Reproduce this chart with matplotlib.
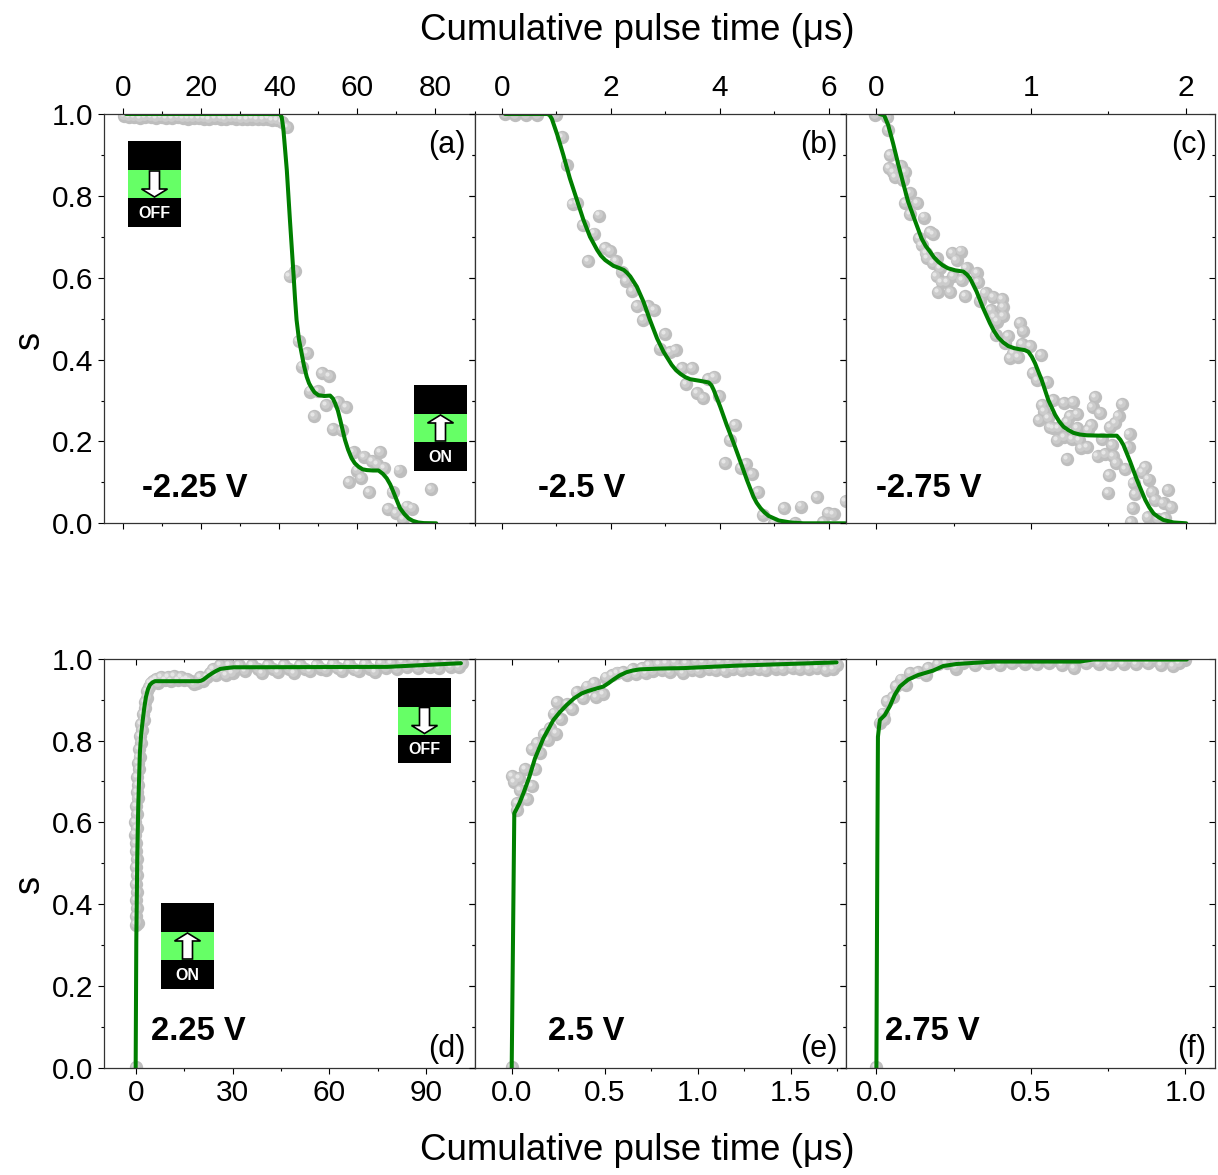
#Curvas de conmutacion S vs tiempo de pulso, seis paneles
import matplotlib
matplotlib.use("Agg")
import matplotlib.pyplot as plt
from matplotlib.patches import Rectangle, Polygon
from matplotlib.ticker import MultipleLocator, FormatStrFormatter
from matplotlib.transforms import ScaledTranslation

plt.rcParams['font.family'] = ['Liberation Sans', 'DejaVu Sans']

# panel a
a_pts_x = [0.3, 1.5, 2.8, 4.2, 5.5, 7, 8.4, 9.8, 11, 12.5, 14, 15.3, 16.6, 18, 19.4, 20.7, 22, 23.5, 25, 26.2, 27.6,
           29, 30.3, 31.7, 33, 34.4, 35.8, 37, 38.2, 39.3, 40.6, 41.9,
           42.6, 43.9, 44.9, 47.0, 45.7, 50.9, 52.8, 47.9, 50, 51.9, 48.9, 55.1, 57.0, 53.8, 56, 59, 61.8, 63.7,
           65.8, 65, 66.9, 70.8, 59.8, 60.9, 57.9, 62.9, 69, 78.9, 67.8, 69.8, 72.8, 73.9, 71.8]
a_pts_y = [0.995, 0.992, 0.993, 0.991, 0.992, 0.993, 0.99, 0.992, 0.991, 0.99, 0.992, 0.991, 0.989, 0.99, 0.991, 0.989,
           0.988, 0.99, 0.989, 0.988, 0.99, 0.989, 0.988, 0.987, 0.989, 0.988, 0.987, 0.989, 0.986, 0.985, 0.981, 0.969,
           0.603, 0.616, 0.445, 0.417, 0.383, 0.366, 0.36, 0.322, 0.324, 0.289, 0.262, 0.296, 0.283, 0.231, 0.228,
           0.175, 0.163, 0.151, 0.173, 0.144, 0.134, 0.129, 0.129, 0.11, 0.1, 0.077, 0.077, 0.083, 0.034, 0.024,
           0.041, 0.036, 0.01]
a_line_x = [0.7, 40.2, 40.6, 41, 41.4, 41.9, 42.7, 43.6, 44.0, 44.4, 45, 45.7, 46.3, 47, 47.6, 48.3, 49, 50, 51.5, 53,
            53.7, 54.3, 55, 55.6, 56.8, 57.6, 58.5, 59.3, 60.3, 61.3, 62.4, 64, 65.4, 66.5, 67.5, 68.4, 69.2, 70, 70.9,
            72, 73.1, 74.2, 75.6, 77, 80.2]
a_line_y = [1, 1, 0.992, 0.965, 0.92, 0.863, 0.741, 0.611, 0.55, 0.497, 0.45, 0.415, 0.385, 0.358, 0.342, 0.33, 0.32,
            0.313, 0.311, 0.312, 0.305, 0.293, 0.275, 0.252, 0.204, 0.18, 0.159, 0.147, 0.138, 0.132, 0.13, 0.129,
            0.129, 0.121, 0.11, 0.095, 0.077, 0.058, 0.037, 0.023, 0.012, 0.006, 0.002, 0.0005, 0]

# panel b
b_pts_x = [0.06, 0.25, 0.45, 0.65, 1.0, 1.1, 1.19, 1.3, 1.39, 1.79, 1.49, 1.7, 1.59, 1.9, 1.99, 2.09, 2.2, 2.28, 2.39,
           2.49, 2.69, 2.79, 2.59, 2.99, 3.19, 3.09, 2.9, 3.31, 3.49, 3.39, 3.78, 3.89, 3.59, 3.69, 3.99, 4.29, 4.19,
           4.1, 4.49, 4.39, 4.59, 4.7, 4.79, 5.0, 5.19, 5.5, 5.79, 6.31, 5.99, 6.09, 5.89, 5.39]
b_pts_y = [0.999, 0.998, 0.998, 0.998, 0.997, 0.943, 0.875, 0.78, 0.782, 0.752, 0.729, 0.708, 0.641, 0.672, 0.665,
           0.641, 0.615, 0.593, 0.568, 0.531, 0.531, 0.521, 0.497, 0.463, 0.423, 0.419, 0.427, 0.379, 0.379, 0.34,
           0.352, 0.358, 0.318, 0.305, 0.311, 0.241, 0.204, 0.147, 0.145, 0.134, 0.12, 0.077, 0.02, 0.0, 0.037,
           0.041, 0.064, 0.055, 0.024, 0.023, 0.004, 0.0]
b_line_x = [0.06, 0.84, 0.88, 0.92, 1.02, 1.13, 1.25, 1.38, 1.5, 1.62, 1.75, 1.82, 1.9, 2.05, 2.15, 2.24, 2.3, 2.36,
            2.48, 2.6, 2.72, 2.85, 2.97, 3.12, 3.2, 3.28, 3.37, 3.46, 3.64, 3.8, 3.85, 3.89, 4.01, 4.13, 4.26, 4.38,
            4.5, 4.62, 4.68, 4.75, 4.82, 4.9, 5.08, 5.3, 5.54, 6.31]
b_line_y = [1, 1, 0.997, 0.988, 0.949, 0.9, 0.843, 0.79, 0.741, 0.7, 0.668, 0.654, 0.643, 0.629, 0.624, 0.619, 0.612,
            0.603, 0.578, 0.542, 0.497, 0.452, 0.419, 0.387, 0.374, 0.365, 0.357, 0.352, 0.348, 0.344, 0.337, 0.326,
            0.285, 0.24, 0.195, 0.151, 0.106, 0.065, 0.05, 0.037, 0.027, 0.018, 0.007, 0.002, 0, 0]

# panel c
c_pts_x = [-0.006, 0.069, 0.078, 0.091, 0.08, 0.108, 0.119, 0.162, 0.184, 0.173, 0.216, 0.188, 0.26, 0.216, 0.307,
           0.276, 0.346, 0.367, 0.292, 0.389, 0.318, 0.328, 0.367, 0.41, 0.492, 0.546, 0.518, 0.583, 0.648, 0.659,
           0.551, 0.497, 0.454, 0.389, 0.421, 0.4, 0.475, 0.575, 0.67, 0.706, 0.756, 0.81, 0.821, 0.739, 0.76, 0.821,
           0.778, 0.929, 0.946, 0.853, 0.773, 0.832, 0.94, 0.994, 0.886, 0.864, 0.918, 1.065, 1.015, 1.037, 1.106,
           1.145, 1.214, 1.274, 1.073, 1.084, 1.054, 1.112, 1.123, 1.177, 1.253, 1.3, 1.235, 1.3, 1.415, 1.398, 1.447,
           1.587, 1.566, 1.544, 1.512, 1.387, 1.371, 1.145, 1.166, 1.214, 1.263, 1.313, 1.322, 1.365, 1.458, 1.637,
           1.523, 1.631, 1.235, 1.43, 1.479, 1.533, 1.551, 1.609, 1.739, 1.717, 1.503, 1.76, 1.663, 1.497, 1.674,
           1.782, 1.885, 1.803, 1.857, 1.905, 1.657, 1.754, 1.646, 1.868, 1.819]
c_pts_y = [0.998, 0.993, 0.961, 0.9, 0.869, 0.859, 0.847, 0.873, 0.859, 0.839, 0.806, 0.782, 0.783, 0.756, 0.747,
           0.696, 0.712, 0.707, 0.68, 0.648, 0.66, 0.647, 0.635, 0.623, 0.66, 0.664, 0.643, 0.623, 0.611, 0.59, 0.594,
           0.603, 0.59, 0.603, 0.59, 0.564, 0.564, 0.556, 0.542, 0.562, 0.552, 0.547, 0.529, 0.521, 0.505, 0.506,
           0.493, 0.489, 0.47, 0.458, 0.459, 0.44, 0.438, 0.432, 0.415, 0.403, 0.407, 0.411, 0.366, 0.35, 0.346,
           0.301, 0.293, 0.296, 0.289, 0.273, 0.252, 0.257, 0.236, 0.232, 0.261, 0.266, 0.248, 0.232, 0.308, 0.285,
           0.269, 0.292, 0.262, 0.244, 0.235, 0.24, 0.228, 0.232, 0.204, 0.21, 0.205, 0.204, 0.183, 0.187, 0.205,
           0.217, 0.191, 0.187, 0.157, 0.164, 0.169, 0.165, 0.147, 0.132, 0.137, 0.126, 0.118, 0.107, 0.098, 0.075,
           0.071, 0.077, 0.081, 0.057, 0.049, 0.039, 0.037, 0.015, 0.004, 0.012, 0.01]
c_line_x = [0.02, 0.05, 0.076, 0.108, 0.14, 0.173, 0.205, 0.248, 0.292, 0.318, 0.346, 0.372, 0.4, 0.43, 0.464, 0.51,
            0.562, 0.585, 0.605, 0.648, 0.691, 0.734, 0.76, 0.788, 0.82, 0.853, 0.89, 0.929, 0.96, 0.983, 1.005, 1.026,
            1.069, 1.112, 1.156, 1.182, 1.21, 1.24, 1.274, 1.315, 1.361, 1.46, 1.555, 1.578, 1.598, 1.641, 1.685,
            1.739, 1.765, 1.793, 1.825, 1.857, 1.922, 2.004]
c_line_y = [1, 0.997, 0.973, 0.928, 0.879, 0.831, 0.786, 0.741, 0.696, 0.678, 0.664, 0.65, 0.639, 0.63, 0.623, 0.618,
            0.615, 0.608, 0.599, 0.566, 0.525, 0.489, 0.47, 0.454, 0.442, 0.433, 0.428, 0.425, 0.423, 0.419, 0.407,
            0.391, 0.35, 0.301, 0.265, 0.249, 0.236, 0.228, 0.221, 0.217, 0.215, 0.214, 0.214, 0.204, 0.191, 0.151,
            0.106, 0.057, 0.039, 0.024, 0.015, 0.008, 0.002, 0]

# panel d
d_pts_x = [0, 0.1, 0.6, 0.1, 0.5, 0.0, 0.4, 0.1, 0.3, 0.0, 0.3, 0.0, 0.2, -0.2, 0.3, -0.1, 0.4, 0.2, 0.6, 0.3, 0.8,
           0.5, 1.0, 0.7, 1.2, 1.0, 1.6, 1.4, 2.0, 1.8, 2.6, 2.2, 3.0, 2.8, 3.6, 3.4, 4.2, 4.6, 5.4,
           6.2, 7, 8, 9, 10, 11, 12, 13, 14, 15, 16, 17, 18, 19, 20, 21, 22, 23, 24, 25, 26, 27, 28, 29, 30, 31, 32,
           34, 36, 38, 39, 41, 42.5, 44, 46, 47.5, 49, 51, 52.5, 54, 56, 57.5, 59, 61, 62.5, 64, 66, 67.5, 69, 71,
           72.5, 74, 76, 77.5, 79, 81, 82.5, 84, 86, 87.5, 89, 91, 92.5, 94, 96, 97.5, 99, 100, 101]
d_pts_y = [0.002, 0.35, 0.355, 0.37, 0.39, 0.41, 0.43, 0.45, 0.47, 0.49, 0.51, 0.53, 0.55, 0.57, 0.585, 0.6, 0.62, 0.64,
           0.66, 0.675, 0.69, 0.71, 0.73, 0.745, 0.76, 0.78, 0.795, 0.81, 0.825, 0.84, 0.85, 0.865, 0.88, 0.895, 0.905,
           0.92, 0.93, 0.94, 0.945,
           0.95, 0.94, 0.955, 0.948, 0.955, 0.945, 0.957, 0.947, 0.955, 0.948, 0.95, 0.945, 0.937, 0.94, 0.955, 0.945,
           0.955, 0.965, 0.975, 0.96, 0.985, 0.97, 0.96, 0.985, 0.965, 0.975, 0.985, 0.97, 0.985, 0.975, 0.965, 0.985,
           0.975, 0.968, 0.985, 0.975, 0.965, 0.985, 0.975, 0.97, 0.985, 0.976, 0.972, 0.988, 0.977, 0.97, 0.986,
           0.975, 0.97, 0.987, 0.976, 0.968, 0.99, 0.978, 0.99, 0.975, 0.992, 0.98, 0.993, 0.978, 0.99, 0.98, 0.995,
           0.978, 0.993, 0.98, 0.995, 0.98, 0.99]
d_line_x = [0, 0.2, 0.5, 0.8, 1.3, 1.7, 2.2, 2.7, 3.2, 3.8, 4.4, 5.2, 6, 19.4, 20.2, 21, 22.3, 23.6, 24.9, 26.2, 28,
            30.3, 77.9, 100.7]
d_line_y = [0, 0.312, 0.516, 0.638, 0.769, 0.815, 0.85, 0.882, 0.907, 0.925, 0.936, 0.942, 0.945, 0.945, 0.946, 0.949,
            0.957, 0.964, 0.97, 0.975, 0.977, 0.979, 0.98, 0.989]

# panel e
e_pts_x = [0.0, 0.004, 0.013, 0.039, 0.072, 0.125, 0.108, 0.045, 0.081, 0.03, 0.027, 0.111, 0.152, 0.134, 0.174, 0.197,
           0.206, 0.238, 0.228, 0.263, 0.246, 0.323, 0.296, 0.349, 0.385, 0.403, 0.444, 0.453, 0.493, 0.507, 0.538,
           0.565, 0.6, 0.62, 0.65, 0.67, 0.7, 0.72, 0.74, 0.76, 0.79, 0.81, 0.83, 0.85, 0.88, 0.9, 0.92, 0.94, 0.97,
           0.99, 1.01, 1.03, 1.06, 1.08, 1.1, 1.12, 1.15, 1.17, 1.19, 1.21, 1.24, 1.26, 1.28, 1.3, 1.33, 1.35, 1.37,
           1.39, 1.42, 1.44, 1.46, 1.48, 1.51, 1.53, 1.55, 1.57, 1.6, 1.62, 1.64, 1.66, 1.69, 1.71, 1.73, 1.75]
e_pts_y = [0.002, 0.714, 0.699, 0.709, 0.73, 0.73, 0.689, 0.679, 0.656, 0.646, 0.63, 0.778, 0.769, 0.793, 0.816, 0.801,
           0.83, 0.817, 0.866, 0.852, 0.895, 0.876, 0.89, 0.919, 0.903, 0.932, 0.94, 0.907, 0.913, 0.954, 0.96, 0.966,
           0.968, 0.96, 0.975, 0.962, 0.978, 0.965, 0.985, 0.97, 0.988, 0.972, 0.99, 0.968, 0.992, 0.975, 0.965, 0.99,
           0.972, 0.995, 0.97, 0.992, 0.974, 0.995, 0.972, 0.992, 0.97, 0.995, 0.975, 0.998, 0.972, 0.995, 0.976,
           0.997, 0.975, 0.993, 0.972, 0.998, 0.976, 0.995, 0.974, 0.997, 0.978, 0.995, 0.975, 0.998, 0.974, 0.995,
           0.978, 0.998, 0.972, 0.995, 0.975, 0.985]
e_line_x = [0, 0.014, 0.041, 0.063, 0.095, 0.125, 0.17, 0.224, 0.26, 0.296, 0.335, 0.376, 0.41, 0.448, 0.493, 0.52,
            0.547, 0.58, 0.618, 0.65, 0.69, 0.8, 0.923, 1.21, 1.747]
e_line_y = [0, 0.622, 0.646, 0.671, 0.711, 0.756, 0.805, 0.85, 0.87, 0.887, 0.903, 0.915, 0.921, 0.926, 0.932, 0.94,
            0.949, 0.959, 0.967, 0.971, 0.974, 0.976, 0.977, 0.983, 0.991]

# panel f
f_pts_x = [0.0, 0.011, 0.024, 0.022, 0.035, 0.054, 0.065, 0.081, 0.097, 0.11, 0.135, 0.16, 0.167, 0.2, 0.227, 0.259,
           0.254, 0.28, 0.3, 0.32, 0.34, 0.36, 0.38, 0.4, 0.42, 0.44, 0.46, 0.48, 0.5, 0.52, 0.54, 0.56, 0.58, 0.6,
           0.62, 0.64, 0.66, 0.68, 0.7, 0.72, 0.74, 0.76, 0.78, 0.8, 0.82, 0.84, 0.86, 0.88, 0.9, 0.92, 0.94, 0.96,
           0.98, 1.0]
f_pts_y = [0.002, 0.844, 0.852, 0.866, 0.896, 0.907, 0.934, 0.949, 0.936, 0.965, 0.968, 0.96, 0.978, 0.987, 0.99, 0.976,
           0.997, 0.99, 0.998, 0.985, 0.998, 0.99, 0.998, 0.985, 0.998, 0.99, 0.998, 0.988, 0.998, 0.986, 0.998, 0.99,
           0.998, 0.985, 0.998, 0.978, 0.998, 0.99, 0.998, 0.988, 0.998, 0.986, 0.998, 0.988, 0.998, 0.986, 0.998,
           0.99, 0.998, 0.984, 0.998, 0.982, 0.99, 0.998]
f_line_x = [0, 0.003, 0.005, 0.011, 0.027, 0.043, 0.059, 0.076, 0.103, 0.135, 0.184, 0.216, 0.259, 0.378, 0.659, 0.702,
            1.005]
f_line_y = [0, 0.516, 0.809, 0.85, 0.862, 0.883, 0.911, 0.932, 0.949, 0.96, 0.971, 0.982, 0.987, 0.993, 0.993, 0.998,
            0.998]

panel_labels = ['(a)', '(b)', '(c)', '(d)', '(e)', '(f)']
voltajes = ['-2.25 V', '-2.5 V', '-2.75 V', '2.25 V', '2.5 V', '2.75 V']
x_titulo = 'Cumulative pulse time (\u03bcs)'

W, H = 1218, 1175
fig = plt.figure(figsize=(W / 100, H / 100), dpi=100)

def caja(x0, x1, y_top, y_bot):
    return [x0 / W, 1 - y_bot / H, (x1 - x0) / W, (y_bot - y_top) / H]

bordes = [104, 474.5, 845.5, 1215]
filas = [(114, 523.3), (658.7, 1067.7)]
lims = [(-4.95, 90), (-0.5, 6.31), (-0.2, 2.19), (-9.8, 104.9), (-0.2, 1.795), (-0.1, 1.096)]
mayor = [20, 2, 1, 30, 0.5, 0.5]
formatos = ['%d', '%d', '%d', '%d', '%.1f', '%.1f']
datos = [(a_pts_x, a_pts_y, a_line_x, a_line_y), (b_pts_x, b_pts_y, b_line_x, b_line_y),
         (c_pts_x, c_pts_y, c_line_x, c_line_y), (d_pts_x, d_pts_y, d_line_x, d_line_y),
         (e_pts_x, e_pts_y, e_line_x, e_line_y), (f_pts_x, f_pts_y, f_line_x, f_line_y)]
volt_x = [142, 538, 876, 151, 548, 885]

fs_tick = 21.5
for i in range(6):
    fila = i // 3
    col = i % 3
    ax = fig.add_axes(caja(bordes[col], bordes[col + 1], filas[fila][0], filas[fila][1]))
    ax.set_xlim(lims[i])
    ax.set_ylim(0, 1)
    px, py, lx, ly = datos[i]

    # esferas grises: base y dos brillos corridos arriba a la izquierda
    ax.scatter(px, py, s=92, color='#bebebe', linewidths=0, zorder=3)
    t1 = ax.transData + ScaledTranslation(-0.8 / 72, 0.8 / 72, fig.dpi_scale_trans)
    ax.scatter(px, py, s=40, color='#cccccc', linewidths=0, zorder=3.1, transform=t1)
    t2 = ax.transData + ScaledTranslation(-1.5 / 72, 1.5 / 72, fig.dpi_scale_trans)
    ax.scatter(px, py, s=9, color='#e6e6e6', linewidths=0, zorder=3.2, transform=t2)

    ax.plot(lx, ly, color='#007f00', lw=2.9, zorder=4, solid_joinstyle='round', solid_capstyle='round')

    ax.xaxis.set_major_locator(MultipleLocator(mayor[i]))
    ax.xaxis.set_minor_locator(MultipleLocator(mayor[i] / 2))
    ax.xaxis.set_major_formatter(FormatStrFormatter(formatos[i]))
    ax.yaxis.set_major_locator(MultipleLocator(0.2))
    ax.yaxis.set_minor_locator(MultipleLocator(0.1))
    ax.yaxis.set_major_formatter(FormatStrFormatter('%.1f'))

    for s in ax.spines.values():
        s.set_linewidth(0.9)
        s.set_color('#333333')
        s.set_zorder(5)

    ax.tick_params(axis='y', which='major', direction='out', left=True, right=False, length=4.3, width=0.8,
                   labelsize=fs_tick, pad=3.5, labelleft=(col == 0))
    ax.tick_params(axis='y', which='minor', direction='out', left=True, right=False, length=2.4, width=0.8)
    ax.tick_params(axis='x', which='major', length=4.3, width=0.8, labelsize=fs_tick)
    ax.tick_params(axis='x', which='minor', length=2.4, width=0.8)

    if fila == 0:
        ax.tick_params(axis='x', which='both', direction='out', top=True, bottom=True, labeltop=True,
                       labelbottom=False)
        ax.tick_params(axis='x', which='major', pad=4)
    else:
        ax.tick_params(axis='x', which='both', direction='out', bottom=True, top=False, labelbottom=True)
        ax.tick_params(axis='x', which='major', pad=4)

    # ticks hacia adentro: lado derecho y arriba en la fila de abajo
    ax2 = ax.secondary_yaxis('right')
    ax2.yaxis.set_major_locator(MultipleLocator(0.2))
    ax2.yaxis.set_minor_locator(MultipleLocator(0.1))
    ax2.tick_params(axis='y', which='major', direction='in', length=4, width=0.8, labelright=False)
    ax2.tick_params(axis='y', which='minor', direction='in', length=2.4, width=0.8)
    ax2.spines['right'].set_visible(False)
    if fila == 1:
        ax3 = ax.secondary_xaxis('top')
        ax3.xaxis.set_major_locator(MultipleLocator(mayor[i]))
        ax3.xaxis.set_minor_locator(MultipleLocator(mayor[i] / 2))
        ax3.tick_params(axis='x', which='major', direction='in', length=4, width=0.8, labeltop=False)
        ax3.tick_params(axis='x', which='minor', direction='in', length=2.4, width=0.8)
        ax3.spines['top'].set_visible(False)

    y_txt = 488 if fila == 0 else 1032
    y_let = 145 if fila == 0 else 1049
    fig.text(volt_x[i] / W, 1 - y_txt / H, voltajes[i], fontsize=23.6, fontweight='bold', va='center', ha='left',
             zorder=10)
    fig.text((bordes[col + 1] - 8.5) / W, 1 - y_let / H, panel_labels[i], fontsize=22, va='center', ha='right',
             zorder=10)

    if col == 0:
        y_s = 340 if fila == 0 else 884
        fig.text(30 / W, 1 - y_s / H, 's', fontsize=26, rotation=90, va='center', ha='center')

fig.text(637.5 / W, 1 - 30 / H, x_titulo, fontsize=26.4, ha='center', va='center')
fig.text(637.5 / W, 1 - 1151 / H, x_titulo, fontsize=26.4, ha='center', va='center')

# capa en pixeles para los iconos del interruptor
capa = fig.add_axes([0, 0, 1, 1], zorder=20)
capa.set_xlim(0, W)
capa.set_ylim(H, 0)
capa.axis('off')
capa.patch.set_alpha(0)

def icono(x0, y0, abajo):
    capa.add_patch(Rectangle((x0, y0), 53, 85.5, facecolor='black', edgecolor='none'))
    capa.add_patch(Rectangle((x0, y0 + 29), 53, 28, facecolor='#66ff66', edgecolor='none'))
    cx = x0 + 26.5
    ym = y0 + 43
    s = 1 if abajo else -1
    flecha = [(cx - 5, ym - 13 * s), (cx + 5, ym - 13 * s), (cx + 5, ym + 5 * s), (cx + 13, ym + 5 * s),
              (cx, ym + 13 * s), (cx - 13, ym + 5 * s), (cx - 5, ym + 5 * s)]
    capa.add_patch(Polygon(flecha, closed=True, facecolor='white', edgecolor='black', lw=1.2))
    capa.text(cx, y0 + 72.5, 'OFF' if abajo else 'ON', color='white', fontsize=11.5, fontweight='bold',
              ha='center', va='center')

icono(128, 141, True)
icono(414, 385, False)
icono(398, 677.5, True)
icono(161, 903, False)

fig.savefig('out.png', dpi=100)
